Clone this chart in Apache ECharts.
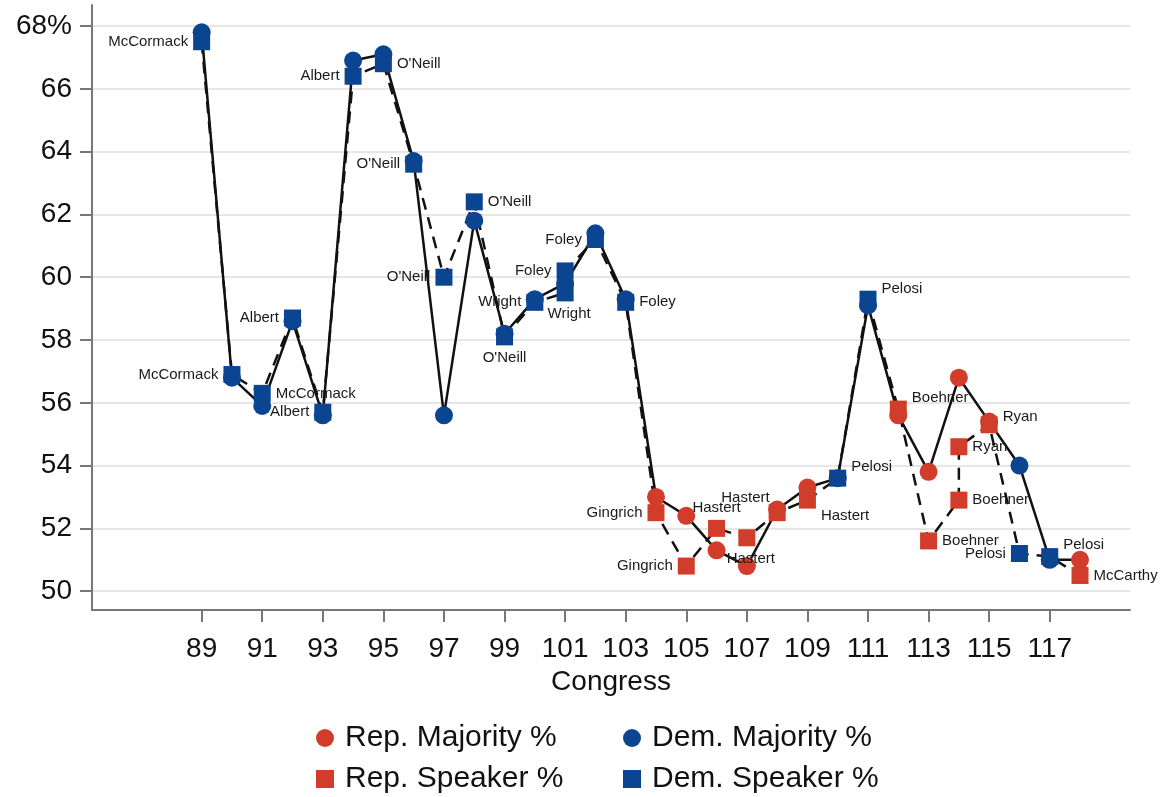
<!DOCTYPE html>
<html>
<head>
<meta charset="utf-8">
<script src="https://cdn.jsdelivr.net/npm/echarts@6/dist/echarts.min.js"></script>
<style>
  html, body { margin: 0; padding: 0; background: #fff; }
  #chart { width: 1162px; height: 797px; }
</style>
</head>
<body>
<div id="chart"></div>
<script>
// majority share of the House by Congress
var congress = [89, 90, 91, 92, 93, 94, 95, 96, 97, 98, 99, 100, 101, 102, 103,
  104, 105, 106, 107, 108, 109, 110, 111, 112, 113, 114, 115, 116, 117, 118];
var majParty = ["D", "D", "D", "D", "D", "D", "D", "D", "D", "D", "D", "D", "D", "D", "D",
  "R", "R", "R", "R", "R", "R", "D", "D", "R", "R", "R", "R", "D", "D", "R"];
var majority = [67.8, 56.8, 55.9, 58.6, 55.6, 66.9, 67.1, 63.7, 55.6, 61.8, 58.2, 59.3, 59.8, 61.4, 59.3,
  53.0, 52.4, 51.3, 50.8, 52.6, 53.3, 53.6, 59.1, 55.6, 53.8, 56.8, 55.4, 54.0, 51.0, 51.0];

// speaker vote share (two speakers in the 101st and 114th)
var spkCongress = [89, 90, 91, 92, 93, 94, 95, 96, 97, 98, 99, 100, 101, 101, 102, 103,
  104, 105, 106, 107, 108, 109, 110, 111, 112, 113, 114, 114, 115, 116, 117, 118];
var spkParty = ["D", "D", "D", "D", "D", "D", "D", "D", "D", "D", "D", "D", "D", "D", "D", "D",
  "R", "R", "R", "R", "R", "R", "D", "D", "R", "R", "R", "R", "R", "D", "D", "R"];
var speaker = [67.5, 56.9, 56.3, 58.7, 55.7, 66.4, 66.8, 63.6, 60.0, 62.4, 58.1, 59.2, 59.5, 60.2, 61.2, 59.2,
  52.5, 50.8, 52.0, 51.7, 52.5, 52.9, 53.6, 59.3, 55.8, 51.6, 52.9, 54.6, 55.3, 51.2, 51.1, 50.5];
var speakerName = ["McCormack", "McCormack", "McCormack", "Albert", "Albert", "Albert", "O'Neill", "O'Neill",
  "O'Neill", "O'Neill", "O'Neill", "Wright", "Wright", "Foley", "Foley", "Foley",
  "Gingrich", "Gingrich", "Hastert", "Hastert", "Hastert", "Hastert", "Pelosi", "Pelosi",
  "Boehner", "Boehner", "Boehner", "Ryan", "Ryan", "Pelosi", "Pelosi", "McCarthy"];

var xTicks = [89, 91, 93, 95, 97, 99, 101, 103, 105, 107, 109, 111, 113, 115, 117];
var yTicks = [50, 52, 54, 56, 58, 60, 62, 64, 66, 68];

// where each speaker label sits next to its marker
var labelPlace = [
  ["left"], ["left"], ["right"], ["left"], ["left"], ["left"], ["right"], ["left"],
  ["left"], ["right"], ["bottom"], ["left"], ["bottom", [4, 0]], ["left"], ["left"], ["right"],
  ["left"], ["left"], ["top"], ["bottom", [4, 0]], ["left", [6, -15]], ["right", [0, 16]],
  ["right", [0, -11]], ["right", [0, -10]], ["right", [0, -11]], ["right"], ["right"], ["right"],
  ["right", [0, -8]], ["left"], ["right", [0, -12]], ["right"]
];

var RED = "#d23c2b";
var BLUE = "#0b4592";

var chart = echarts.init(document.getElementById("chart"));

function pts(xs, ys, parties, party) {
  var out = [];
  for (var i = 0; i < xs.length; i++) {
    if (parties[i] === party) out.push([xs[i], ys[i]]);
  }
  return out;
}

function speakerPts(party) {
  var out = [];
  for (var i = 0; i < spkCongress.length; i++) {
    if (spkParty[i] !== party) continue;
    var p = labelPlace[i];
    out.push({
      value: [spkCongress[i], speaker[i]],
      label: {
        show: true,
        formatter: speakerName[i],
        position: p[0],
        offset: p[1] || [0, 0]
      }
    });
  }
  return out;
}

var labelStyle = {
  color: "#1a1a1a",
  fontFamily: "Liberation Sans, Arial, sans-serif",
  fontSize: 15,
  distance: 5
};

var legendText = { fontSize: 30, color: "#111", lineHeight: 30, padding: [0, 0, 0, 6] };

var option = {
  animation: false,
  backgroundColor: "#fff",
  textStyle: { fontFamily: "Liberation Sans, Arial, sans-serif" },
  grid: { left: 92, right: 32, top: 5, bottom: 187 },
  xAxis: {
    type: "value",
    min: 85.38,
    max: 119.65,
    name: "Congress",
    nameLocation: "middle",
    nameGap: 50,
    nameTextStyle: { color: "#111", fontSize: 28 },
    axisLine: { show: true, lineStyle: { color: "#777", width: 2 } },
    axisTick: { show: true, length: 12, customValues: xTicks, lineStyle: { color: "#777", width: 2 } },
    axisLabel: { customValues: xTicks, color: "#111", fontSize: 28, margin: 25 },
    splitLine: { show: false }
  },
  yAxis: {
    type: "value",
    min: 49.4,
    max: 68.67,
    axisLine: { show: true, lineStyle: { color: "#777", width: 2 } },
    axisTick: { show: true, length: 12, customValues: yTicks, lineStyle: { color: "#777", width: 2 } },
    axisLabel: {
      customValues: yTicks,
      color: "#111",
      fontSize: 28,
      margin: 20,
      formatter: function (v) { return v === 68 ? "68%" : String(v); }
    },
    splitLine: { show: true, lineStyle: { color: "#e6e6e6", width: 2 } }
  },
  legend: [
    {
      left: 316, top: 723, orient: "vertical", itemGap: 11, padding: 0,
      itemWidth: 18, itemHeight: 18,
      textStyle: legendText,
      data: [{ name: "Rep. Majority %", icon: "circle" }, { name: "Rep. Speaker %", icon: "rect" }]
    },
    {
      left: 623, top: 723, orient: "vertical", itemGap: 11, padding: 0,
      itemWidth: 18, itemHeight: 18,
      textStyle: legendText,
      data: [{ name: "Dem. Majority %", icon: "circle" }, { name: "Dem. Speaker %", icon: "rect" }]
    }
  ],
  series: [
    {
      name: "majority line",
      type: "line",
      data: congress.map(function (c, i) { return [c, majority[i]]; }),
      showSymbol: false,
      symbol: "none",
      lineStyle: { color: "#111", width: 2.5 },
      z: 2
    },
    {
      name: "speaker line",
      type: "line",
      data: spkCongress.map(function (c, i) { return [c, speaker[i]]; }),
      showSymbol: false,
      symbol: "none",
      lineStyle: { color: "#111", width: 2.5, type: [12, 8] },
      z: 2
    },
    {
      name: "Rep. Majority %",
      type: "scatter",
      symbol: "circle",
      symbolSize: 18,
      itemStyle: { color: RED, opacity: 1 },
      data: pts(congress, majority, majParty, "R"),
      z: 3
    },
    {
      name: "Dem. Majority %",
      type: "scatter",
      symbol: "circle",
      symbolSize: 18,
      itemStyle: { color: BLUE, opacity: 1 },
      data: pts(congress, majority, majParty, "D"),
      z: 3
    },
    {
      name: "Rep. Speaker %",
      type: "scatter",
      symbol: "rect",
      symbolSize: 17,
      itemStyle: { color: RED, opacity: 1 },
      label: labelStyle,
      data: speakerPts("R"),
      z: 4
    },
    {
      name: "Dem. Speaker %",
      type: "scatter",
      symbol: "rect",
      symbolSize: 17,
      itemStyle: { color: BLUE, opacity: 1 },
      label: labelStyle,
      data: speakerPts("D"),
      z: 4
    }
  ]
};

option && chart.setOption(option);
</script>
</body>
</html>
